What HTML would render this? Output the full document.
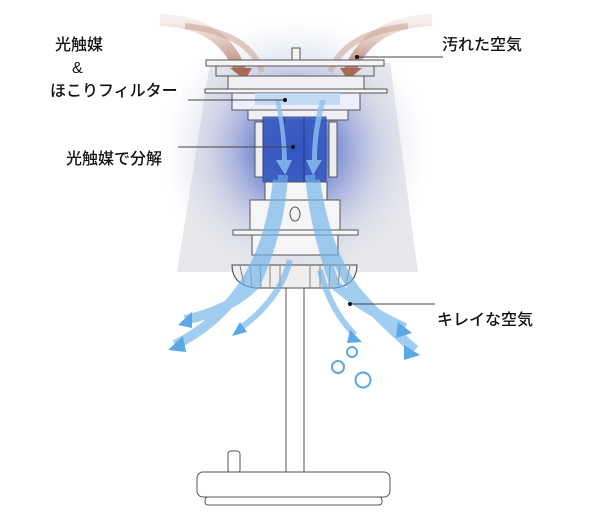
<!DOCTYPE html><html><head><meta charset="utf-8"><style>
body{margin:0;background:#fff;width:600px;height:529px;overflow:hidden}
svg{display:block}
text{font-family:"Liberation Sans","Noto Sans CJK JP",sans-serif;font-size:16px;fill:#111;font-weight:500}
</style></head><body>
<svg width="600" height="529" viewBox="0 0 600 529">
<defs>
<radialGradient id="g" cx="295" cy="150" r="135" gradientUnits="userSpaceOnUse">
<stop offset="0" stop-color="#2a46c8"/><stop offset="0.3" stop-color="#5a72d0" stop-opacity="0.75"/><stop offset="0.65" stop-color="#aab4dc" stop-opacity="0.35"/><stop offset="1" stop-color="#dfe1ea" stop-opacity="0"/></radialGradient>
<linearGradient id="br" x1="0" y1="0" x2="0" y2="1"><stop offset="0" stop-color="#c9a090" stop-opacity="0.2"/><stop offset="1" stop-color="#a86a55"/></linearGradient>
</defs>
<polygon points="210,63 390,63 418,272 177,272" fill="#e8e8ec"/>
<rect x="140" y="10" width="320" height="280" fill="url(#g)"/>
<!-- brown arrows -->
<path d="M160,20 Q222,22 240,70" stroke="url(#br)" stroke-width="12" fill="none" opacity="0.85"/>
<path d="M230,68 L252,68 L245,80Z" fill="#a86a55"/>
<path d="M185,26 Q250,33 262,72" stroke="#c9a090" stroke-width="6" fill="none" opacity="0.55"/>
<path d="M432,20 Q370,22 350,70" stroke="url(#br)" stroke-width="12" fill="none" opacity="0.85"/>
<path d="M340,68 L362,68 L348,80Z" fill="#a86a55"/>
<path d="M408,26 Q345,33 330,72" stroke="#c9a090" stroke-width="6" fill="none" opacity="0.55"/>
<!-- top plates -->
<g stroke="#555" stroke-width="1" fill="#f4f4f6">
<rect x="292" y="48" width="8" height="12"/>
<rect x="206" y="60" width="178" height="6"/>
<rect x="216" y="66" width="158" height="10" fill="none"/>
<rect x="228" y="76" width="136" height="14" fill="#f0f0f4"/>
<rect x="205" y="89" width="182" height="4"/>
<rect x="232" y="93" width="128" height="17" fill="#eef"/>
<rect x="248" y="110" width="100" height="10" fill="#f0f0f4"/>
<rect x="255" y="122" width="8" height="55" fill="#eee"/>
<rect x="329" y="122" width="8" height="55" fill="#eee"/>
</g>
<rect x="255" y="93" width="85" height="12" fill="#b8d4f2" opacity="0.8"/>
<rect x="263" y="117" width="63" height="65" fill="#3458c0" opacity="0.85" stroke="#2a3f90"/>
<line x1="284" y1="117" x2="284" y2="182" stroke="#20358a"/><line x1="304" y1="117" x2="304" y2="182" stroke="#20358a"/>
<path d="M275,100 Q282,130 282,160 L276,160 L285,175 L292,160 L287,160 Q286,130 280,100Z" fill="#8fc0f0" opacity="0.8"/>
<path d="M320,100 Q312,130 312,160 L306,160 L313,175 L322,160 L317,160 Q317,130 326,100Z" fill="#8fc0f0" opacity="0.8"/>
<!-- lower body -->
<g stroke="#555" stroke-width="1" fill="#f5f5f7">
<rect x="265" y="182" width="62" height="18"/>
<rect x="250" y="200" width="90" height="30"/>
<rect x="233" y="230" width="125" height="5"/>
<rect x="252" y="235" width="86" height="20"/>
</g>
<ellipse cx="295" cy="214" rx="5" ry="7" fill="none" stroke="#555"/>
<!-- fan -->
<path d="M232,265 L357,265 Q357,285 335,288 L255,288 Q232,285 232,265Z" fill="#eee" stroke="#444"/>
<g stroke="#666" stroke-width="0.8">
<line x1="240" y1="266" x2="244" y2="284"/><line x1="250" y1="266" x2="252" y2="286"/><line x1="260" y1="266" x2="261" y2="287"/><line x1="270" y1="266" x2="270" y2="287"/><line x1="280" y1="266" x2="280" y2="287"/><line x1="310" y1="266" x2="310" y2="287"/><line x1="320" y1="266" x2="320" y2="287"/><line x1="330" y1="266" x2="329" y2="287"/><line x1="340" y1="266" x2="338" y2="286"/><line x1="350" y1="266" x2="346" y2="284"/></g>
<!-- blue flows -->
<g fill="none" stroke="#6fb3ea" opacity="0.65">
<path d="M283,175 Q280,230 255,285 Q230,310 185,320" stroke-width="10"/>
<path d="M278,180 Q270,250 240,290 Q215,325 175,345" stroke-width="10"/>
<path d="M290,260 Q280,300 238,330" stroke-width="6"/>
<path d="M310,175 Q315,230 335,285 Q365,310 405,328" stroke-width="10"/>
<path d="M315,180 Q325,250 355,290 Q380,320 415,350" stroke-width="10"/>
<path d="M320,270 Q330,310 355,335" stroke-width="6"/>
</g>
<g fill="#5aa8e6">
<path d="M178,325 L192,312 L192,328Z"/><path d="M168,350 L183,336 L186,352Z"/><path d="M232,336 L240,322 L247,332Z"/>
<path d="M412,333 L398,322 L396,338Z"/><path d="M420,355 L404,345 L404,360Z"/><path d="M362,342 L350,330 L347,343Z"/>
</g>
<!-- pole and base -->
<rect x="286" y="288" width="18" height="184" fill="#fff" stroke="#555"/>
<rect x="228" y="451" width="12" height="22" rx="3" fill="#fff" stroke="#555"/>
<rect x="197" y="472" width="193" height="25" rx="6" fill="#fff" stroke="#555"/>
<rect x="205" y="497" width="177" height="8" rx="3" fill="#fff" stroke="#555"/>
<!-- bubbles -->
<g fill="none" stroke="#5aa8e6" stroke-width="2">
<circle cx="352" cy="352" r="5"/><circle cx="338" cy="367" r="6"/><circle cx="363" cy="380" r="7.5"/></g>
<!-- labels -->
<g stroke="#444" stroke-width="1">
<line x1="188" y1="100" x2="285" y2="100"/><line x1="178" y1="147" x2="293" y2="147"/>
<line x1="357" y1="57" x2="443" y2="57"/><line x1="350" y1="304" x2="435" y2="304"/></g>
<g fill="#111"><circle cx="285" cy="100" r="2"/><circle cx="293" cy="147" r="2"/><circle cx="357" cy="57" r="2"/><circle cx="350" cy="304" r="2"/></g>
<text x="55" y="50">光触媒</text>
<text x="72" y="73">&amp;</text>
<text x="50" y="96">ほこりフィルター</text>
<text x="66" y="164">光触媒で分解</text>
<text x="442" y="50">汚れた空気</text>
<text x="437" y="325">キレイな空気</text>
</svg>
</body></html>
